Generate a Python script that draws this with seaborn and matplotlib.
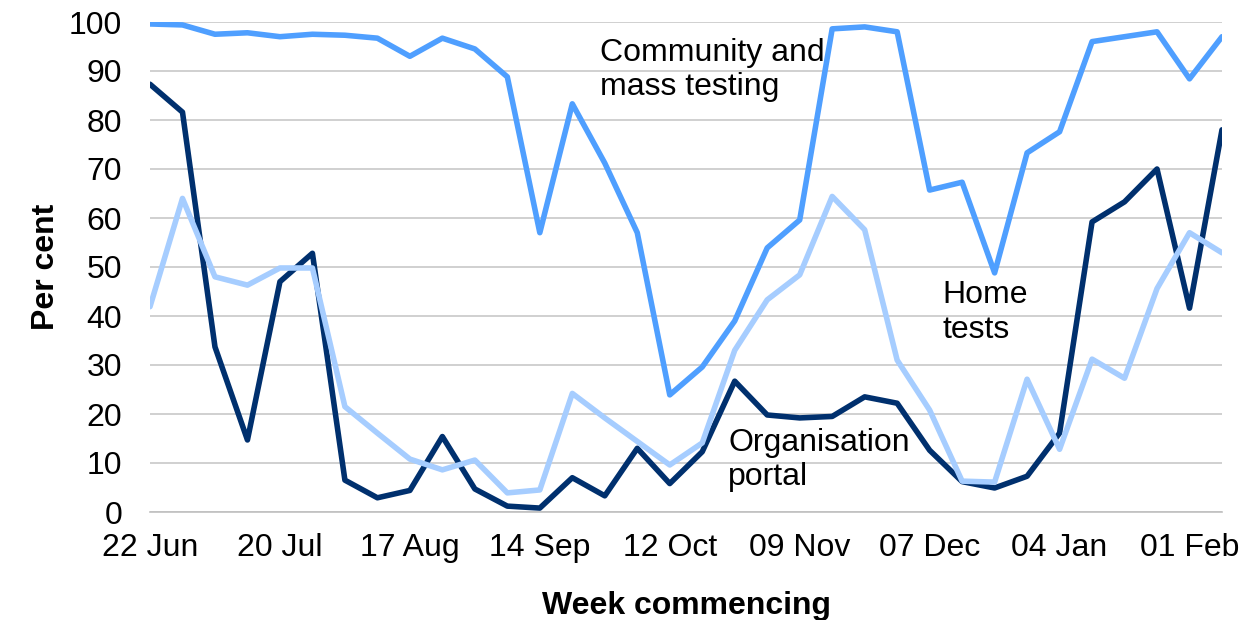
import pandas as pd
import matplotlib.pyplot as plt
import seaborn as sns

# weekly share of tests, week commencing 22 Jun 2020 .. 08 Feb 2021
weeks = list(range(34))
tick_pos = [0, 4, 8, 12, 16, 20, 24, 28, 32]
tick_labels = ["22 Jun", "20 Jul", "17 Aug", "14 Sep", "12 Oct",
               "09 Nov", "07 Dec", "04 Jan", "01 Feb"]

community = [99.6, 99.4, 97.5, 97.8, 97.0, 97.5, 97.3, 96.7, 93.0, 96.7,
             94.5, 88.8, 57.0, 83.3, 71.2, 57.0, 23.9, 29.6, 39.0, 53.9,
             59.6, 98.6, 99.0, 98.0, 65.7, 67.3, 48.8, 73.3, 77.6, 96.0,
             97.0, 98.0, 88.4, 97.0]
organisation = [87.3, 81.6, 33.7, 14.7, 47.0, 52.8, 6.5, 2.9, 4.4, 15.4,
                4.7, 1.2, 0.8, 7.0, 3.3, 13.0, 5.8, 12.3, 26.7, 19.8,
                19.2, 19.5, 23.5, 22.2, 12.6, 6.2, 4.9, 7.3, 16.1, 59.2,
                63.3, 70.0, 41.6, 78.0]
home = [41.9, 64.0, 48.0, 46.3, 49.8, 49.8, 21.5, 16.1, 10.8, 8.6,
        10.6, 3.9, 4.5, 24.2, 19.2, 14.4, 9.6, 14.1, 33.0, 43.3,
        48.4, 64.4, 57.6, 31.0, 20.8, 6.3, 6.1, 27.1, 12.8, 31.2,
        27.3, 45.6, 57.0, 52.9]

df = pd.DataFrame({
    "week": weeks * 3,
    "pct": community + organisation + home,
    "channel": (["Community and mass testing"] * 34 + ["Organisation portal"] * 34
                + ["Home tests"] * 34),
})
palette = {"Community and mass testing": "#4f9fff",
           "Organisation portal": "#00306e",
           "Home tests": "#a6cdff"}

sns.set_style("white")
plt.rcParams["font.family"] = ["Liberation Sans", "DejaVu Sans"]
plt.rcParams["text.color"] = "black"
plt.rcParams["axes.labelcolor"] = "black"
plt.rcParams["xtick.labelcolor"] = "black"
plt.rcParams["ytick.labelcolor"] = "black"

fig = plt.figure(figsize=(12.47, 6.2), dpi=100)
ax = fig.add_axes([150 / 1247, 1 - 512 / 620, 1072 / 1247, 490 / 620])

sns.lineplot(data=df, x="week", y="pct", hue="channel", palette=palette,
             linewidth=4, legend=False, ax=ax)

ax.set_xlim(0, 33)
ax.set_ylim(0, 100)
ax.set_yticks(range(0, 101, 10))
ax.set_xticks(tick_pos)
ax.set_xticklabels(tick_labels)
ax.yaxis.grid(True, color="#c8c8c8", linewidth=1.2)
ax.set_axisbelow(True)
for s in ["left", "right", "top"]:
    ax.spines[s].set_visible(False)
ax.spines["bottom"].set_color("#c0c0c0")
ax.spines["bottom"].set_linewidth(1.2)
ax.tick_params(axis="x", length=7, width=1.2, color="#c0c0c0", labelsize=23, pad=8)
ax.tick_params(axis="y", length=0, labelsize=23, pad=20)

ax.set_xlabel("Week commencing", fontsize=23, fontweight="bold", labelpad=20)
ax.set_ylabel("Per cent", fontsize=23, fontweight="bold", labelpad=6)

ax.text(13.85, 96.8, "Community and\nmass testing", fontsize=23, va="top",
        linespacing=1.2)
ax.text(24.4, 47.3, "Home\ntests", fontsize=23, va="top", linespacing=1.2)
ax.text(17.8, 17.2, "Organisation\nportal", fontsize=23, va="top", linespacing=1.2)

fig.savefig("out.png", dpi=100)
